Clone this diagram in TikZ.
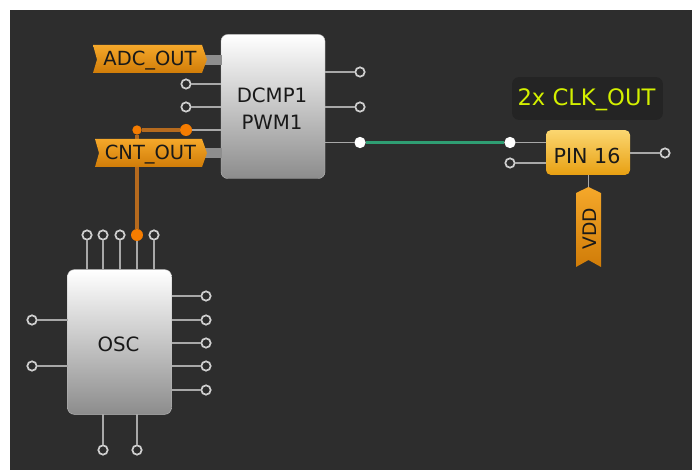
\documentclass[tikz,border=0pt]{standalone}
\usepackage{fontspec}
\setmainfont{DejaVu Sans}
\definecolor{bgd}{HTML}{2D2D2D}
\definecolor{wirew}{HTML}{A8A8A8}
\definecolor{ringc}{HTML}{CFCFCF}
\definecolor{busc}{HTML}{8E8E8E}
\definecolor{orng}{HTML}{F57C00}
\definecolor{orngw}{HTML}{B56A1E}
\definecolor{greenw}{HTML}{2F9E73}
\definecolor{labelbg}{HTML}{242424}
\definecolor{lime}{HTML}{D4F000}
\definecolor{tagtop}{HTML}{F5A82A}
\definecolor{tagbot}{HTML}{D07C08}
\definecolor{pintop}{HTML}{FBD670}
\definecolor{pinbot}{HTML}{E8A012}
\tikzset{
  x=0.75pt,y=-0.75pt,
  port/.style={circle,draw=ringc,line width=1.3pt,fill=bgd,minimum size=7pt,inner sep=0pt,outer sep=0pt},
  portw/.style={circle,fill=white,minimum size=8.5pt,inner sep=0pt,outer sep=0pt},
  porto/.style={circle,fill=orng,minimum size=9pt,inner sep=0pt,outer sep=0pt},
  portos/.style={circle,fill=orng,minimum size=7pt,inner sep=0pt,outer sep=0pt},
  wire/.style={draw=wirew,line width=0.9pt},
  owire/.style={draw=orngw,line width=2.5pt},
  block/.style={rounded corners=5pt,top color=white,bottom color=black!45,draw=black!25,line width=0.3pt,inner sep=0pt,outer sep=0pt},
  blocktext/.style={inner sep=0pt,align=center,text=black!90,font=\fontsize{14.8}{20}\selectfont},
  pinbox/.style={rounded corners=3.5pt,top color=pintop,bottom color=pinbot,inner sep=0pt,outer sep=0pt},
  tagt/.style={text=black!90,inner sep=0pt,font=\fontsize{14.6}{15}\selectfont},
  tagfill/.style={top color=tagtop,bottom color=tagbot},
}
\begin{document}
\begin{tikzpicture}
\useasboundingbox (0,0) rectangle (692,470);
\fill[white] (0,0) rectangle (692,470);
\fill[bgd] (10,10) rectangle (692,470);
% DCMP block
\node[block,minimum width=78pt,minimum height=108pt] (dcmp) at (273,106.5) {};
\node[blocktext] (dcmpt) at (272,108.5) {DCMP1\\PWM1};
\node[port] (d1) at (186,84) {};
\node[port] (d2) at (186,107) {};
\node[porto] (d3) at (186,130) {};
\node[portos] (d0) at (137,130) {};
\node[port] (o1) at (360,72) {};
\node[port] (o2) at (360,107) {};
\node[portw] (o3) at (360,142.5) {};
\coordinate (dw1) at (dcmp.west |- d1); \coordinate (dw2) at (dcmp.west |- d2); \coordinate (dw3) at (dcmp.west |- d3);
\coordinate (de1) at (dcmp.east |- o1); \coordinate (de2) at (dcmp.east |- o2); \coordinate (de3) at (dcmp.east |- o3);
\draw[wire] (d1) -- (dw1); \draw[wire] (d2) -- (dw2); \draw[wire] (d3) -- (dw3);
\draw[wire] (de1) -- (o1); \draw[wire] (de2) -- (o2); \draw[wire] (de3) -- (o3);
% buses
\fill[busc] (205,55) rectangle (222,65);
\fill[busc] (205,148) rectangle (222,158);
% OSC block
\node[block,minimum width=78pt,minimum height=108.5pt] (osc) at (119.5,342) {};
\node[blocktext] (osct) at (118.5,344) {OSC};
\foreach \n/\px in {t1/87,t2/103,t3/120,t5/154}{
  \node[port] (\n) at (\px,235) {};
  \draw[wire] (\n) -- (\n |- osc.north);
}
\node[porto] (t4) at (137,235) {};
\draw[wire] (t4) -- (t4 |- osc.north);
\foreach \n/\py in {r1/296,r2/320,r3/343,r4/366,r5/390}{
  \node[port] (\n) at (206,\py) {};
  \draw[wire] (osc.east |- \n) -- (\n);
}
\foreach \n/\py in {l1/320,l2/366}{
  \node[port] (\n) at (32,\py) {};
  \draw[wire] (\n) -- (osc.west |- \n);
}
\foreach \n/\px in {b1/103,b2/137}{
  \node[port] (\n) at (\px,450) {};
  \draw[wire] (\n) -- (\n |- osc.south);
}
% orange wires
\draw[owire] (d0) -- (d3);
\draw[owire] (d0) -- (t4);
% tags
\shade[tagfill] (93,45) -- (202,45) -- (207,59.5) -- (202,73) -- (93,73) -- (97,59.5) -- cycle;
\node[tagt] (adc) at (150,60.5) {ADC\_OUT};
\shade[tagfill] (95,139) -- (202,139) -- (207,153) -- (202,167) -- (95,167) -- (99,153) -- cycle;
\node[tagt] (cnt) at (150.5,154.5) {CNT\_OUT};
% PIN
\node[pinbox,minimum width=63pt,minimum height=33.5pt] (pin) at (588,152.5) {};
\node[tagt,font=\fontsize{15.5}{18}\selectfont] (pint) at (587,155.5) {PIN 16};
\node[portw] (p1) at (510,142.5) {};
\node[port] (p2) at (510,163) {};
\node[port] (p3) at (665,153) {};
\draw[wire] (p1) -- (p1 -| pin.west);
\draw[wire] (p2) -- (p2 -| pin.west);
\draw[wire] (p3 -| pin.east) -- (p3);
\draw[draw=greenw,line width=2.4pt] (o3) -- (p1);
% VDD
\draw[wire] (pin.south -| 588.5,0) -- (588.5,190);
\shade[tagfill] (576,193) -- (588.5,187) -- (601,193) -- (601,267) -- (588.5,260) -- (576,267) -- cycle;
\node[tagt,rotate=90,font=\fontsize{14}{15}\selectfont] (vdd) at (590,229) {VDD};
% label
\node[rounded corners=5pt,fill=labelbg,minimum width=113pt,minimum height=32pt,inner sep=0pt] (lab) at (587.5,98.5) {};
\node[text=lime,font=\fontsize{17}{20}\selectfont,inner sep=0pt] at (586.5,100) {2x CLK\_OUT};
\end{tikzpicture}
\end{document}
